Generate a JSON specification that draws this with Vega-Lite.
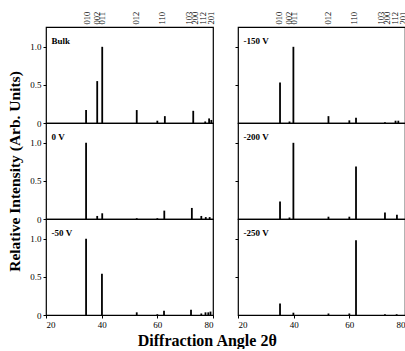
{
  "$schema": "https://vega.github.io/schema/vega-lite/v6.json",
  "padding": {"left": 7, "top": 10, "right": 0, "bottom": 0},
  "background": "white",
  "title": {"text": "Diffraction Angle 2θ", "orient": "bottom", "anchor": "middle", "fontSize": 16, "fontWeight": "bold", "font": "Liberation Serif", "color": "black", "offset": 3},
  "datasets": {
    "peaks": [
      {"panel": "Bulk", "angle": 34.4, "intensity": 0.17},
      {"panel": "Bulk", "angle": 38.4, "intensity": 0.55},
      {"panel": "Bulk", "angle": 40.2, "intensity": 1.0},
      {"panel": "Bulk", "angle": 52.6, "intensity": 0.17},
      {"panel": "Bulk", "angle": 60.0, "intensity": 0.03},
      {"panel": "Bulk", "angle": 62.7, "intensity": 0.09},
      {"panel": "Bulk", "angle": 72.9, "intensity": 0.16},
      {"panel": "Bulk", "angle": 77.2, "intensity": 0.02},
      {"panel": "Bulk", "angle": 78.6, "intensity": 0.06},
      {"panel": "Bulk", "angle": 79.4, "intensity": 0.04},
      {"panel": "0 V", "angle": 34.4, "intensity": 1.0},
      {"panel": "0 V", "angle": 38.4, "intensity": 0.04},
      {"panel": "0 V", "angle": 40.2, "intensity": 0.075},
      {"panel": "0 V", "angle": 52.6, "intensity": 0.01},
      {"panel": "0 V", "angle": 60.0, "intensity": 0.01},
      {"panel": "0 V", "angle": 62.5, "intensity": 0.11},
      {"panel": "0 V", "angle": 72.4, "intensity": 0.145},
      {"panel": "0 V", "angle": 75.8, "intensity": 0.04},
      {"panel": "0 V", "angle": 77.4, "intensity": 0.025},
      {"panel": "0 V", "angle": 78.8, "intensity": 0.025},
      {"panel": "-50 V", "angle": 34.4, "intensity": 1.0},
      {"panel": "-50 V", "angle": 40.1, "intensity": 0.54},
      {"panel": "-50 V", "angle": 52.6, "intensity": 0.035},
      {"panel": "-50 V", "angle": 60.0, "intensity": 0.01},
      {"panel": "-50 V", "angle": 62.4, "intensity": 0.055},
      {"panel": "-50 V", "angle": 72.1, "intensity": 0.07},
      {"panel": "-50 V", "angle": 75.8, "intensity": 0.02},
      {"panel": "-50 V", "angle": 77.3, "intensity": 0.035},
      {"panel": "-50 V", "angle": 78.3, "intensity": 0.035},
      {"panel": "-50 V", "angle": 79.1, "intensity": 0.045},
      {"panel": "-150 V", "angle": 35.1, "intensity": 0.53},
      {"panel": "-150 V", "angle": 38.5, "intensity": 0.02},
      {"panel": "-150 V", "angle": 39.9, "intensity": 1.0},
      {"panel": "-150 V", "angle": 52.5, "intensity": 0.09},
      {"panel": "-150 V", "angle": 60.0, "intensity": 0.035},
      {"panel": "-150 V", "angle": 62.4, "intensity": 0.07},
      {"panel": "-150 V", "angle": 72.8, "intensity": 0.01},
      {"panel": "-150 V", "angle": 76.6, "intensity": 0.03},
      {"panel": "-150 V", "angle": 77.6, "intensity": 0.03},
      {"panel": "-200 V", "angle": 35.1, "intensity": 0.23},
      {"panel": "-200 V", "angle": 38.5, "intensity": 0.02},
      {"panel": "-200 V", "angle": 39.9, "intensity": 1.0},
      {"panel": "-200 V", "angle": 52.5, "intensity": 0.03},
      {"panel": "-200 V", "angle": 60.0, "intensity": 0.03},
      {"panel": "-200 V", "angle": 62.4, "intensity": 0.69},
      {"panel": "-200 V", "angle": 72.8, "intensity": 0.085},
      {"panel": "-200 V", "angle": 77.1, "intensity": 0.055},
      {"panel": "-250 V", "angle": 35.1, "intensity": 0.15},
      {"panel": "-250 V", "angle": 39.9, "intensity": 0.03},
      {"panel": "-250 V", "angle": 52.5, "intensity": 0.02},
      {"panel": "-250 V", "angle": 60.0, "intensity": 0.02},
      {"panel": "-250 V", "angle": 62.4, "intensity": 0.98},
      {"panel": "-250 V", "angle": 72.8, "intensity": 0.01},
      {"panel": "-250 V", "angle": 77.0, "intensity": 0.01}
    ],
    "labels": [
      {"panel": "Bulk", "label": "Bulk"},
      {"panel": "0 V", "label": "0 V"},
      {"panel": "-50 V", "label": "-50 V"},
      {"panel": "-150 V", "label": "-150 V"},
      {"panel": "-200 V", "label": "-200 V"},
      {"panel": "-250 V", "label": "-250 V"}
    ]
  },
  "columns": 2,
  "spacing": {"row": 0, "column": 25},
  "bounds": "flush",
  "concat": [
    {
      "width": 167, "height": 96,
      "layer": [
        {"data": {"name": "peaks"}, "transform": [{"filter": "datum.panel === 'Bulk'"}],
         "mark": {"type": "rule", "strokeWidth": 1.8, "color": "black"},
         "encoding": {
           "x": {"field": "angle", "type": "quantitative", "scale": {"domain": [20, 80], "nice": false, "zero": false},
                 "axis": {"orient": "top", "title": null, "values": [34.6, 38.1, 40.1, 52.3, 61.4, 71.2, 73.4, 76.3, 79.0], "labelExpr": "['010','002','011','012','110','103','200','112','201'][indexof([34.6, 38.1, 40.1, 52.3, 61.4, 71.2, 73.4, 76.3, 79.0], datum.value)]", "labelAngle": -90, "labelFontSize": 8.5, "labelFont": "Liberation Serif", "labelColor": "black", "ticks": false, "domain": false, "grid": false, "labelPadding": 3, "labelOverlap": false, "labelBound": false}},
           "y": {"field": "intensity", "type": "quantitative", "scale": {"domain": [0, 1.26], "nice": false},
                 "axis": {"title": null, "values": [0, 0.5, 1], "labelExpr": "datum.value === 0 ? '0' : format(datum.value, '.1f')", "domain": false, "grid": false, "tickColor": "black", "tickSize": 3, "labelFontSize": 9, "labelFont": "Liberation Serif", "labelColor": "black", "labelPadding": 2}},
           "y2": {"datum": 0}
         }},
        {"data": {"name": "labels"}, "transform": [{"filter": "datum.panel === 'Bulk'"}],
         "mark": {"type": "text", "align": "left", "baseline": "middle", "font": "Liberation Serif", "fontSize": 9, "fontWeight": "bold", "color": "black"},
         "encoding": {"x": {"datum": 22, "type": "quantitative",
                 "axis": {"orient": "top", "title": null, "values": [34.6, 38.1, 40.1, 52.3, 61.4, 71.2, 73.4, 76.3, 79.0], "labelExpr": "['010','002','011','012','110','103','200','112','201'][indexof([34.6, 38.1, 40.1, 52.3, 61.4, 71.2, 73.4, 76.3, 79.0], datum.value)]", "labelAngle": -90, "labelFontSize": 8.5, "labelFont": "Liberation Serif", "labelColor": "black", "ticks": false, "domain": false, "grid": false, "labelPadding": 3, "labelOverlap": false, "labelBound": false}},
                      "y": {"datum": 1.08, "type": "quantitative"}, "text": {"field": "label"}}}
      ]
    },
    {
      "width": 167, "height": 96,
      "layer": [
        {"data": {"name": "peaks"}, "transform": [{"filter": "datum.panel === '-150 V'"}],
         "mark": {"type": "rule", "strokeWidth": 1.8, "color": "black"},
         "encoding": {
           "x": {"field": "angle", "type": "quantitative", "scale": {"domain": [20, 80], "nice": false, "zero": false},
                 "axis": {"orient": "top", "title": null, "values": [34.6, 38.1, 40.1, 52.3, 61.4, 71.2, 73.4, 76.3, 79.0], "labelExpr": "['010','002','011','012','110','103','200','112','201'][indexof([34.6, 38.1, 40.1, 52.3, 61.4, 71.2, 73.4, 76.3, 79.0], datum.value)]", "labelAngle": -90, "labelFontSize": 8.5, "labelFont": "Liberation Serif", "labelColor": "black", "ticks": false, "domain": false, "grid": false, "labelPadding": 3, "labelOverlap": false, "labelBound": false}},
           "y": {"field": "intensity", "type": "quantitative", "scale": {"domain": [0, 1.26], "nice": false},
                 "axis": {"title": null, "values": [0.5, 1], "labels": false, "domain": false, "grid": false, "tickColor": "black", "tickSize": 3}},
           "y2": {"datum": 0}
         }},
        {"data": {"name": "labels"}, "transform": [{"filter": "datum.panel === '-150 V'"}],
         "mark": {"type": "text", "align": "left", "baseline": "middle", "font": "Liberation Serif", "fontSize": 9, "fontWeight": "bold", "color": "black"},
         "encoding": {"x": {"datum": 22, "type": "quantitative",
                 "axis": {"orient": "top", "title": null, "values": [34.6, 38.1, 40.1, 52.3, 61.4, 71.2, 73.4, 76.3, 79.0], "labelExpr": "['010','002','011','012','110','103','200','112','201'][indexof([34.6, 38.1, 40.1, 52.3, 61.4, 71.2, 73.4, 76.3, 79.0], datum.value)]", "labelAngle": -90, "labelFontSize": 8.5, "labelFont": "Liberation Serif", "labelColor": "black", "ticks": false, "domain": false, "grid": false, "labelPadding": 3, "labelOverlap": false, "labelBound": false}},
                      "y": {"datum": 1.08, "type": "quantitative"}, "text": {"field": "label"}}}
      ]
    },
    {
      "width": 167, "height": 96,
      "layer": [
        {"data": {"name": "peaks"}, "transform": [{"filter": "datum.panel === '0 V'"}],
         "mark": {"type": "rule", "strokeWidth": 1.8, "color": "black"},
         "encoding": {
           "x": {"field": "angle", "type": "quantitative", "scale": {"domain": [20, 80], "nice": false, "zero": false}, "axis": null},
           "y": {"field": "intensity", "type": "quantitative", "scale": {"domain": [0, 1.26], "nice": false},
                 "axis": {"title": "Relative Intensity (Arb. Units)", "titleFontSize": 15.5, "titleFontWeight": "bold", "titleFont": "Liberation Serif", "titleColor": "black", "titlePadding": 7, "values": [0, 0.5, 1], "labelExpr": "datum.value === 0 ? '0' : format(datum.value, '.1f')", "domain": false, "grid": false, "tickColor": "black", "tickSize": 3, "labelFontSize": 9, "labelFont": "Liberation Serif", "labelColor": "black", "labelPadding": 2}},
           "y2": {"datum": 0}
         }},
        {"data": {"name": "labels"}, "transform": [{"filter": "datum.panel === '0 V'"}],
         "mark": {"type": "text", "align": "left", "baseline": "middle", "font": "Liberation Serif", "fontSize": 9, "fontWeight": "bold", "color": "black"},
         "encoding": {"x": {"datum": 22, "type": "quantitative", "axis": null}, "y": {"datum": 1.08, "type": "quantitative"}, "text": {"field": "label"}}}
      ]
    },
    {
      "width": 167, "height": 96,
      "layer": [
        {"data": {"name": "peaks"}, "transform": [{"filter": "datum.panel === '-200 V'"}],
         "mark": {"type": "rule", "strokeWidth": 1.8, "color": "black"},
         "encoding": {
           "x": {"field": "angle", "type": "quantitative", "scale": {"domain": [20, 80], "nice": false, "zero": false}, "axis": null},
           "y": {"field": "intensity", "type": "quantitative", "scale": {"domain": [0, 1.26], "nice": false},
                 "axis": {"title": null, "values": [0.5, 1], "labels": false, "domain": false, "grid": false, "tickColor": "black", "tickSize": 3}},
           "y2": {"datum": 0}
         }},
        {"data": {"name": "labels"}, "transform": [{"filter": "datum.panel === '-200 V'"}],
         "mark": {"type": "text", "align": "left", "baseline": "middle", "font": "Liberation Serif", "fontSize": 9, "fontWeight": "bold", "color": "black"},
         "encoding": {"x": {"datum": 22, "type": "quantitative", "axis": null}, "y": {"datum": 1.08, "type": "quantitative"}, "text": {"field": "label"}}}
      ]
    },
    {
      "width": 167, "height": 96,
      "layer": [
        {"data": {"name": "peaks"}, "transform": [{"filter": "datum.panel === '-50 V'"}],
         "mark": {"type": "rule", "strokeWidth": 1.8, "color": "black"},
         "encoding": {
           "x": {"field": "angle", "type": "quantitative", "scale": {"domain": [20, 80], "nice": false, "zero": false},
                 "axis": {"title": null, "values": [20, 40, 60, 80], "format": "d", "domain": false, "grid": false, "tickColor": "black", "tickSize": 3, "labelFontSize": 9, "labelFont": "Liberation Serif", "labelColor": "black", "labelPadding": 2}},
           "y": {"field": "intensity", "type": "quantitative", "scale": {"domain": [0, 1.26], "nice": false},
                 "axis": {"title": null, "values": [0, 0.5, 1], "labelExpr": "datum.value === 0 ? '0' : format(datum.value, '.1f')", "domain": false, "grid": false, "tickColor": "black", "tickSize": 3, "labelFontSize": 9, "labelFont": "Liberation Serif", "labelColor": "black", "labelPadding": 2}},
           "y2": {"datum": 0}
         }},
        {"data": {"name": "labels"}, "transform": [{"filter": "datum.panel === '-50 V'"}],
         "mark": {"type": "text", "align": "left", "baseline": "middle", "font": "Liberation Serif", "fontSize": 9, "fontWeight": "bold", "color": "black"},
         "encoding": {"x": {"datum": 22, "type": "quantitative"}, "y": {"datum": 1.08, "type": "quantitative"}, "text": {"field": "label"}}}
      ]
    },
    {
      "width": 167, "height": 96,
      "layer": [
        {"data": {"name": "peaks"}, "transform": [{"filter": "datum.panel === '-250 V'"}],
         "mark": {"type": "rule", "strokeWidth": 1.8, "color": "black"},
         "encoding": {
           "x": {"field": "angle", "type": "quantitative", "scale": {"domain": [20, 80], "nice": false, "zero": false},
                 "axis": {"title": null, "values": [20, 40, 60, 80], "format": "d", "domain": false, "grid": false, "tickColor": "black", "tickSize": 3, "labelFontSize": 9, "labelFont": "Liberation Serif", "labelColor": "black", "labelPadding": 2}},
           "y": {"field": "intensity", "type": "quantitative", "scale": {"domain": [0, 1.26], "nice": false},
                 "axis": {"title": null, "values": [0.5, 1], "labels": false, "domain": false, "grid": false, "tickColor": "black", "tickSize": 3}},
           "y2": {"datum": 0}
         }},
        {"data": {"name": "labels"}, "transform": [{"filter": "datum.panel === '-250 V'"}],
         "mark": {"type": "text", "align": "left", "baseline": "middle", "font": "Liberation Serif", "fontSize": 9, "fontWeight": "bold", "color": "black"},
         "encoding": {"x": {"datum": 22, "type": "quantitative"}, "y": {"datum": 1.08, "type": "quantitative"}, "text": {"field": "label"}}}
      ]
    }
  ],
  "config": {
    "view": {"stroke": "black", "strokeWidth": 1.2},
    "font": "Liberation Serif",
    "axis": {"labelOverlap": false}
  }
}
